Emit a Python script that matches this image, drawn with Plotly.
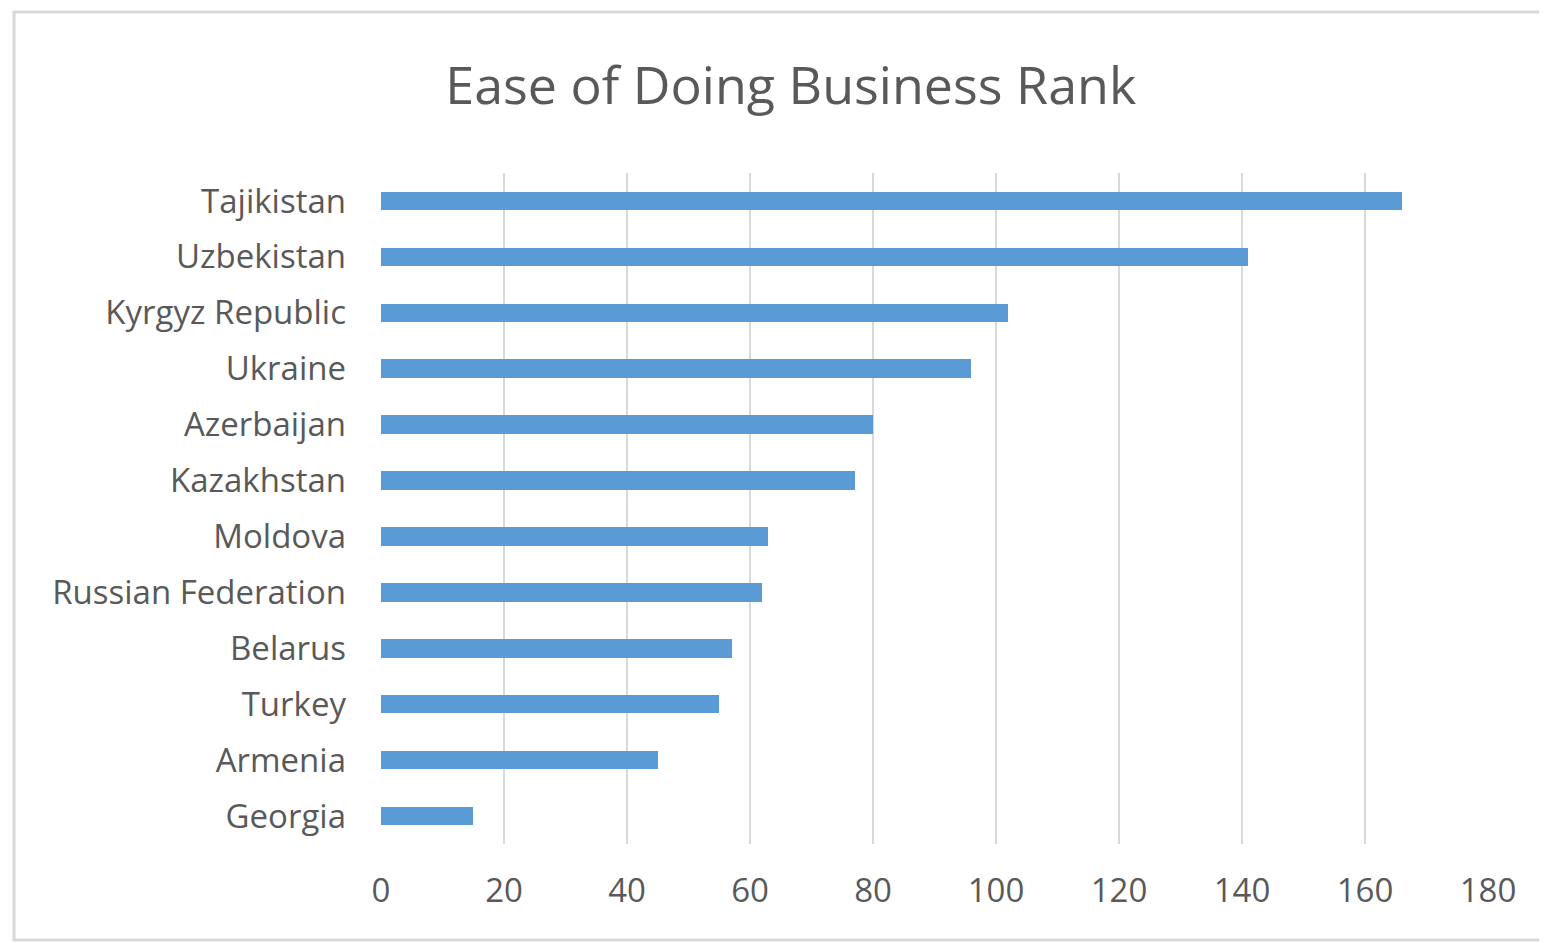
import plotly.graph_objects as go

countries = ["Tajikistan", "Uzbekistan", "Kyrgyz Republic", "Ukraine", "Azerbaijan",
             "Kazakhstan", "Moldova", "Russian Federation", "Belarus", "Turkey",
             "Armenia", "Georgia"]
ranks = [166, 141, 102, 96, 80, 77, 63, 62, 57, 55, 45, 15]
x_ticks = [0, 20, 40, 60, 80, 100, 120, 140, 160, 180]

fig = go.Figure(go.Bar(
    x=ranks[::-1], y=countries[::-1], orientation="h",
    marker=dict(color="#5B9BD5", line=dict(width=0)),
    width=0.33,
))

fig.update_layout(
    width=1547, height=943,
    paper_bgcolor="white", plot_bgcolor="white",
    font=dict(family="Open Sans", color="#595959"),
    title=dict(text="Ease of Doing Business Rank", x=0.506, xanchor="center",
               y=0.918, yanchor="middle", font=dict(size=52, color="#595959")),
    margin=dict(l=373, r=67, t=165, b=107),
    bargap=0,
    showlegend=False,
    xaxis=dict(range=[0, 180], tickvals=x_ticks, showgrid=True, gridcolor="#D9D9D9",
               gridwidth=2, zeroline=False, showline=False, ticks="",
               tickfont=dict(size=33, color="#595959"), ticklabelstandoff=24),
    yaxis=dict(showgrid=False, showline=False, ticks="",
               tickfont=dict(size=33, color="#595959"), ticklabelstandoff=34),
    shapes=[dict(type="rect", xref="paper", yref="paper", x0=-0.3315, x1=1.2,
                 y0=-0.143, y1=1.240, line=dict(color="#D9D9D9", width=3))],
)

fig.write_html("out.html")
